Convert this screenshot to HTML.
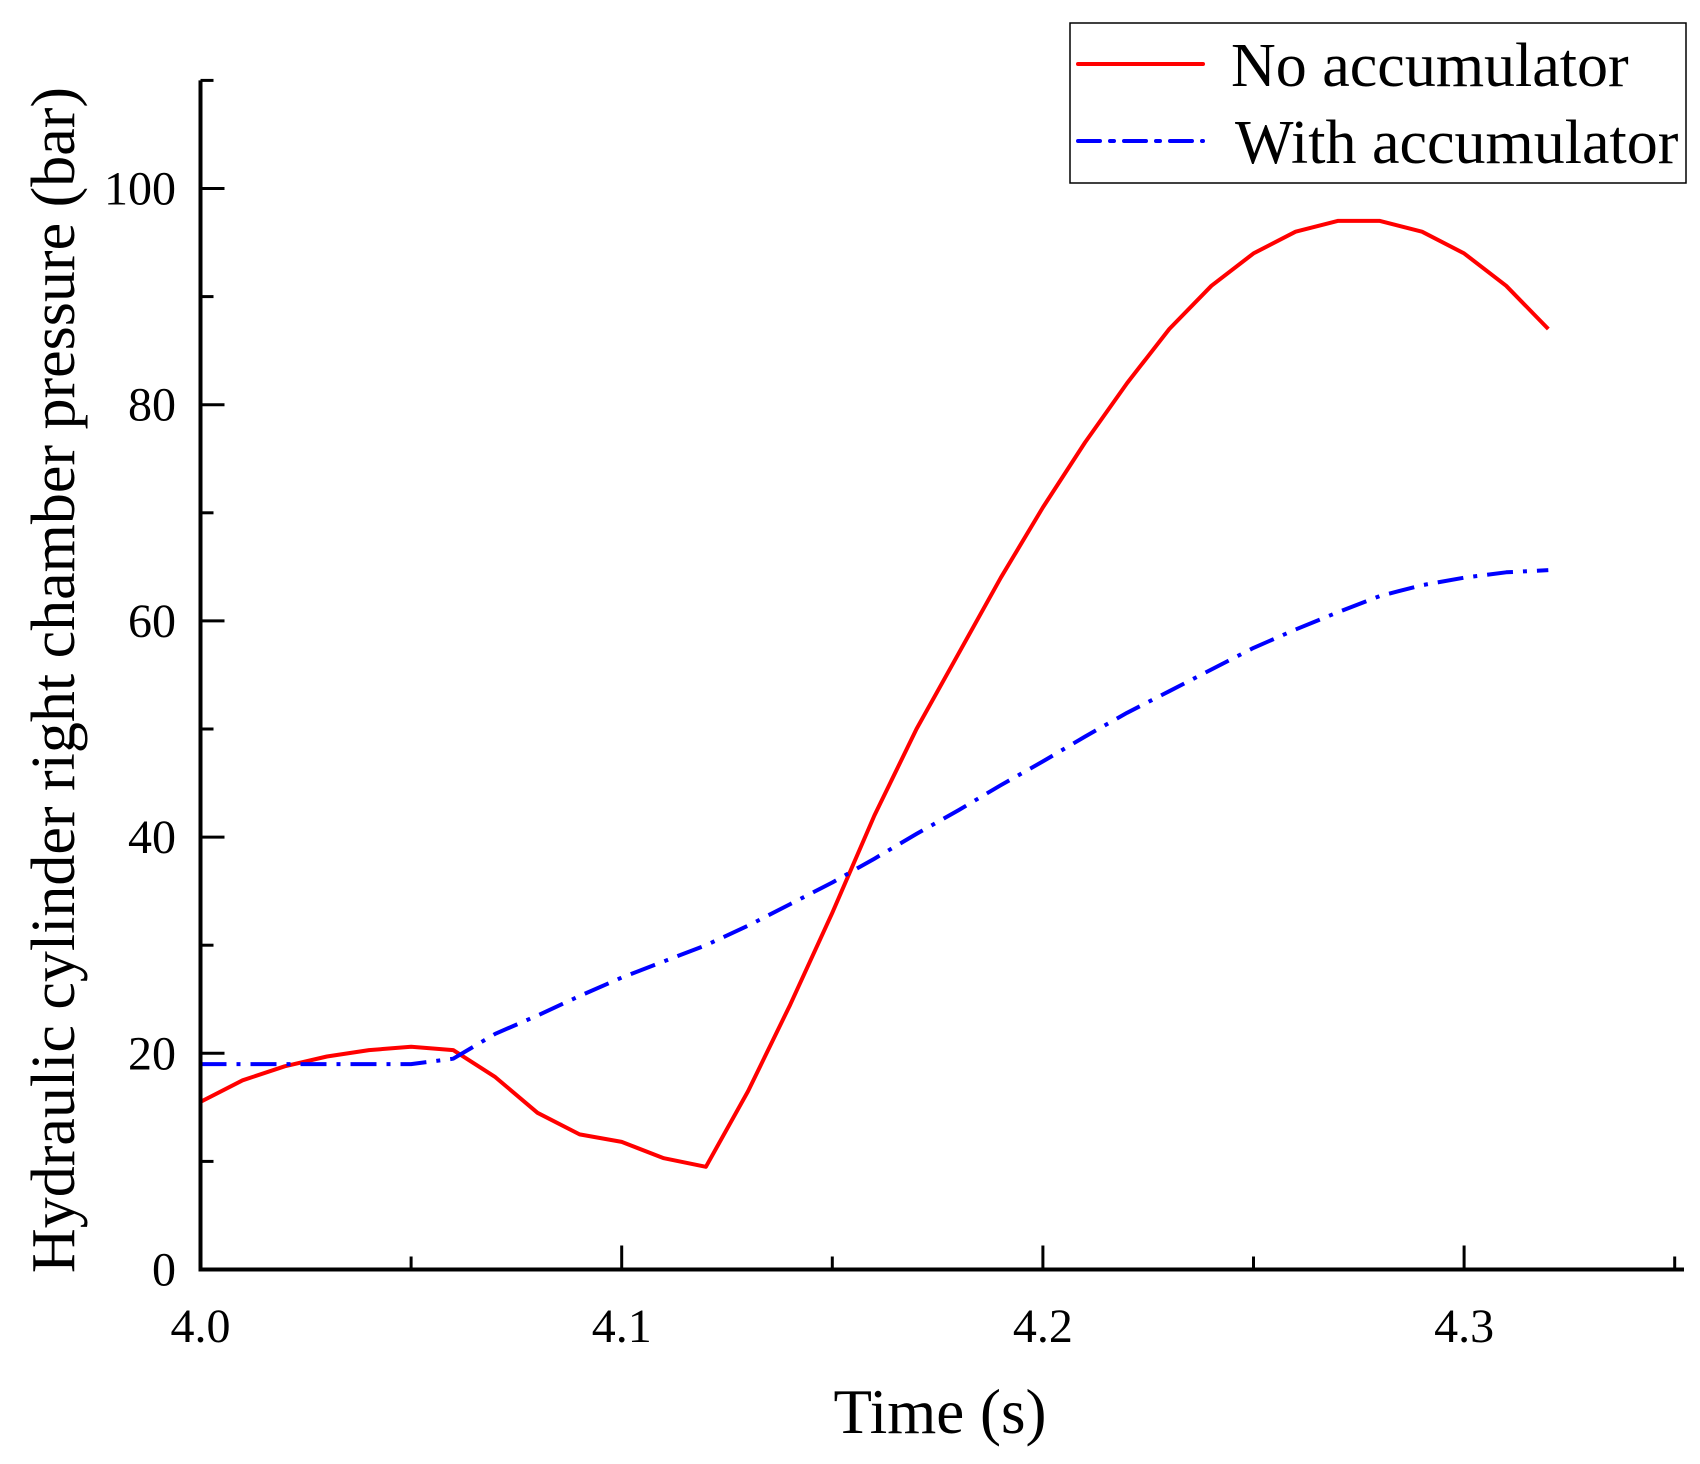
<!DOCTYPE html>
<html><head><meta charset="utf-8"><style>
html,body{margin:0;padding:0;background:#fff;}
svg{display:block;font-family:"Liberation Serif",serif;}
</style></head><body>
<svg id="chart" width="1700" height="1464" viewBox="0 0 1700 1464" xmlns="http://www.w3.org/2000/svg">
<g id="plot"></g>
<g id="axes"></g>
<text x="940" y="1433" font-size="63" text-anchor="middle">Time (s)</text>
<text transform="translate(74,680) rotate(-90)" font-size="62" text-anchor="middle">Hydraulic cylinder right chamber pressure (bar)</text>
<g transform="translate(-5,0)">
<rect x="1075" y="23" width="616" height="160" fill="#fff" stroke="#000" stroke-width="1.5"/>
<line x1="1083" y1="64" x2="1208" y2="64" stroke="#ff0000" stroke-width="4" stroke-linecap="round"/>
<text x="1236" y="86" font-size="62">No accumulator</text>
<line x1="1083" y1="141" x2="1208" y2="141" stroke="#0000ff" stroke-width="4" stroke-dasharray="22 10 4 10" stroke-linecap="round"/>
<text x="1240" y="163" font-size="62">With accumulator</text>
</g>
</svg>
<script>
const timeValues=[4.00,4.01,4.02,4.03,4.04,4.05,4.06,4.07,4.08,4.09,4.10,4.11,4.12,4.13,4.14,4.15,4.16,4.17,4.18,4.19,4.20,4.21,4.22,4.23,4.24,4.25,4.26,4.27,4.28,4.29,4.30,4.31,4.32];
const noAccumulator=[15.5,17.5,18.8,19.7,20.3,20.6,20.3,17.8,14.5,12.5,11.8,10.3,9.5,16.5,24.5,33,42,50,57,64,70.5,76.5,82,87,91,94,96,97,97,96,94,91,87];
const withAccumulator=[19,19,19,19,19,19,19.5,21.8,23.5,25.3,27,28.5,30,31.8,33.8,35.8,38,40.3,42.5,44.8,47,49.3,51.5,53.5,55.5,57.5,59.2,60.8,62.3,63.3,64,64.5,64.7];
const xTicks=[4.0,4.1,4.2,4.3];
const xTickLabels=["4.0","4.1","4.2","4.3"];
const yTicks=[0,20,40,60,80,100];
const yTickLabels=["0","20","40","60","80","100"];

const NS="http://www.w3.org/2000/svg";
const X=t=>200.5+(t-4.0)*4212;
const Y=v=>1269.5-v*10.81;
function mk(tag,attrs,parent){const e=document.createElementNS(NS,tag);for(const k in attrs)e.setAttribute(k,attrs[k]);parent.appendChild(e);return e;}
const plot=document.getElementById('plot'),axes=document.getElementById('axes');

function series(vals,color,dash,name){
  const d=vals.map((v,i)=>(i?'L':'M')+X(timeValues[i]).toFixed(1)+','+Y(v).toFixed(1)).join(' ');
  const p=mk('path',{d:d,fill:'none',stroke:color,'stroke-width':4,'stroke-linejoin':'round'},plot);
  if(dash)p.setAttribute('stroke-dasharray',dash);
  
  
}
series(noAccumulator,'#ff0000',null,'series-no-accumulator');
series(withAccumulator,'#0000ff','26 10 4 10','series-with-accumulator');

const xa=mk('line',{x1:200.5,y1:Y(0),x2:1684,y2:Y(0),stroke:'#000','stroke-width':4},axes);


const ya=mk('line',{x1:200.5,y1:Y(0)+2,x2:200.5,y2:Y(110),stroke:'#000','stroke-width':4},axes);



for(let t=4.0;t<4.351;t+=0.05){
  const maj=Math.abs(Math.round(t*10)-t*10)<1e-6;
  const l=mk('line',{x1:X(t),y1:Y(0),x2:X(t),y2:Y(0)-(maj?24:13),stroke:'#000','stroke-width':3},axes);
  
  
}
xTicks.forEach((t,i)=>{
  const tx=mk('text',{x:X(t),y:1342,'font-size':48,'text-anchor':'middle'},axes);
  tx.textContent=xTickLabels[i];
  
  
});
for(let v=0;v<=110;v+=10){
  const maj=v%20===0;
  const l=mk('line',{x1:200.5,y1:Y(v),x2:200.5+(maj?24:13),y2:Y(v),stroke:'#000','stroke-width':3},axes);
  
  
}
yTicks.forEach((v,i)=>{
  const tx=mk('text',{x:176,y:Y(v)+16,'font-size':48,'text-anchor':'end'},axes);
  tx.textContent=yTickLabels[i];
  
  
});
</script>
</body></html>
